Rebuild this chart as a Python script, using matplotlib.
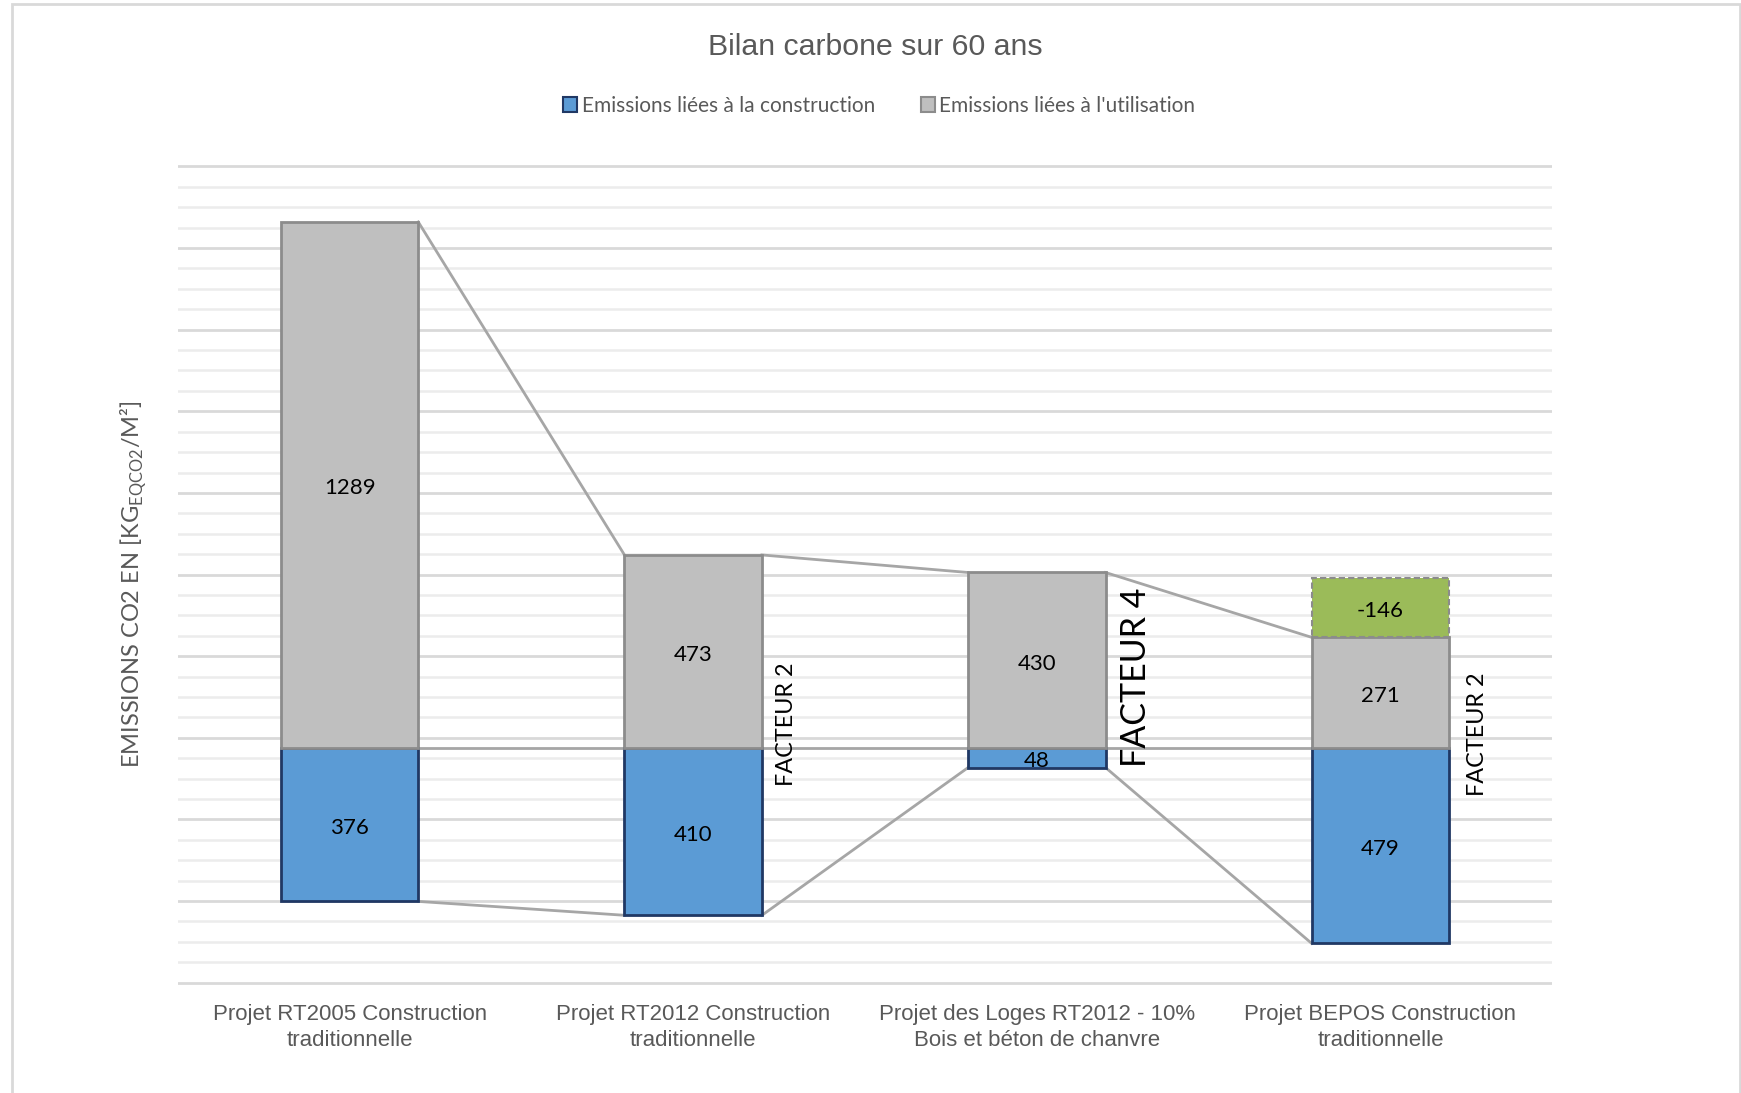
import numpy as np
import matplotlib
matplotlib.use('Agg')
from matplotlib import pyplot as plt
from matplotlib.patches import Patch, Rectangle

# data
projets = ['Projet RT2005 Construction\ntraditionnelle',
           'Projet RT2012 Construction\ntraditionnelle',
           'Projet des Loges RT2012 - 10%\nBois et béton de chanvre',
           'Projet BEPOS Construction\ntraditionnelle']
construction = [376, 410, 48, 479]
utilisation = [1289, 473, 430, 271]
production = [0, 0, 0, -146]
base = 575

BLUE = '#5b9bd5'
BLUE_EDGE = '#203864'
GREY = '#bfbfbf'
GREY_EDGE = '#8c8c8c'
GREEN = '#9bbb59'
TXT = '#595959'
CALIBRI = ['Lato', 'DejaVu Sans']
ARIAL = ['Liberation Sans', 'DejaVu Sans']

fig = plt.figure(figsize=(17.41, 10.93), dpi=100)
ax = fig.add_axes([0.1021, 0.098, 0.7895, 0.7527])

x = np.arange(len(projets))
w = 0.4
cons = np.array(construction)
util = np.array(utilisation)
prod = np.abs(np.array(production))

ax.bar(x, cons, w, bottom=base - cons, color=BLUE, edgecolor=BLUE_EDGE, lw=2, zorder=3)
ax.bar(x, util, w, bottom=base, color=GREY, edgecolor=GREY_EDGE, lw=2, zorder=3)
ax.bar(x[prod > 0], prod[prod > 0], w, bottom=base + util[prod > 0], color=GREEN,
       edgecolor=GREY_EDGE, lw=1.5, ls=(0, (3, 1.5)), zorder=3)

# connecting lines between bars
for i in range(len(x) - 1):
    xr, xl = x[i] + w / 2, x[i + 1] - w / 2
    ax.plot([xr, xl], [base + util[i], base + util[i + 1]], color='#a6a6a6', lw=2, zorder=2)
    ax.plot([xr, xl], [base, base], color='#a6a6a6', lw=2, zorder=2)
    ax.plot([xr, xl], [base - cons[i], base - cons[i + 1]], color='#a6a6a6', lw=2, zorder=2)

# value labels
lab = dict(ha='center', va='center', fontsize=16, family=CALIBRI, color='black', zorder=4,
           textcoords='offset points', xytext=(0, -2.5))
for i in range(len(x)):
    ax.annotate(str(construction[i]), (x[i], base - cons[i] / 2), **lab)
    ax.annotate(str(utilisation[i]), (x[i], base + util[i] / 2), **lab)
    if prod[i] > 0:
        ax.annotate(str(production[i]), (x[i], base + util[i] + prod[i] / 2), **lab)

# facteurs
ax.text(1.272, base + 57, 'FACTEUR 2', rotation=90, ha='center', va='center',
        fontsize=16.8, family=CALIBRI, color='black')
ax.text(2.29, base + 174, 'FACTEUR 4', rotation=90, ha='center', va='center',
        fontsize=24.5, family=CALIBRI, color='black')
ax.text(3.281, base + 33, 'FACTEUR 2', rotation=90, ha='center', va='center',
        fontsize=16.8, family=CALIBRI, color='black')

# grid
for v in np.arange(0, 2001, 50):
    major = v % 200 == 0
    ax.axhline(v, color='#d9d9d9' if major else '#ececec', lw=2 if major else 1.8, zorder=1)

ax.set_xlim(-0.5, 3.5)
ax.set_ylim(-8, 2008)
ax.set_yticks([])
ax.set_xticks(x)
ax.set_xticklabels(projets, family=ARIAL, fontsize=16, color=TXT, linespacing=1.33)
ax.tick_params(axis='x', length=0, pad=13)
for s in ax.spines.values():
    s.set_visible(False)

ax.set_ylabel(r'EMISSIONS CO2 EN [KG$_{\mathregular{EQCO2}}$/M²]', family=CALIBRI,
              fontsize=17, color=TXT, labelpad=21, y=0.488)

fig.text(0.503, 0.957, 'Bilan carbone sur 60 ans', ha='center', va='center',
         family=ARIAL, fontsize=21.8, color=TXT)

handles = [Patch(facecolor=BLUE, edgecolor=BLUE_EDGE, lw=1.5),
           Patch(facecolor=GREY, edgecolor=GREY_EDGE, lw=1.5)]
fig.legend(handles, ['Emissions liées à la construction', "Emissions liées à l'utilisation"],
           loc='center', bbox_to_anchor=(0.505, 0.903), ncol=2, frameon=False,
           handlelength=0.7, handleheight=0.7, handletextpad=0.2, columnspacing=2.2,
           prop={'family': CALIBRI, 'size': 15}, labelcolor=TXT)

# chart border
fig.patches.append(Rectangle((12 / 1741, -0.01), (1740 - 12) / 1741, 1 - 4 / 1093 + 0.01,
                             transform=fig.transFigure, fill=False, edgecolor='#d9d9d9', lw=2))

fig.savefig('out.png', dpi=100)
